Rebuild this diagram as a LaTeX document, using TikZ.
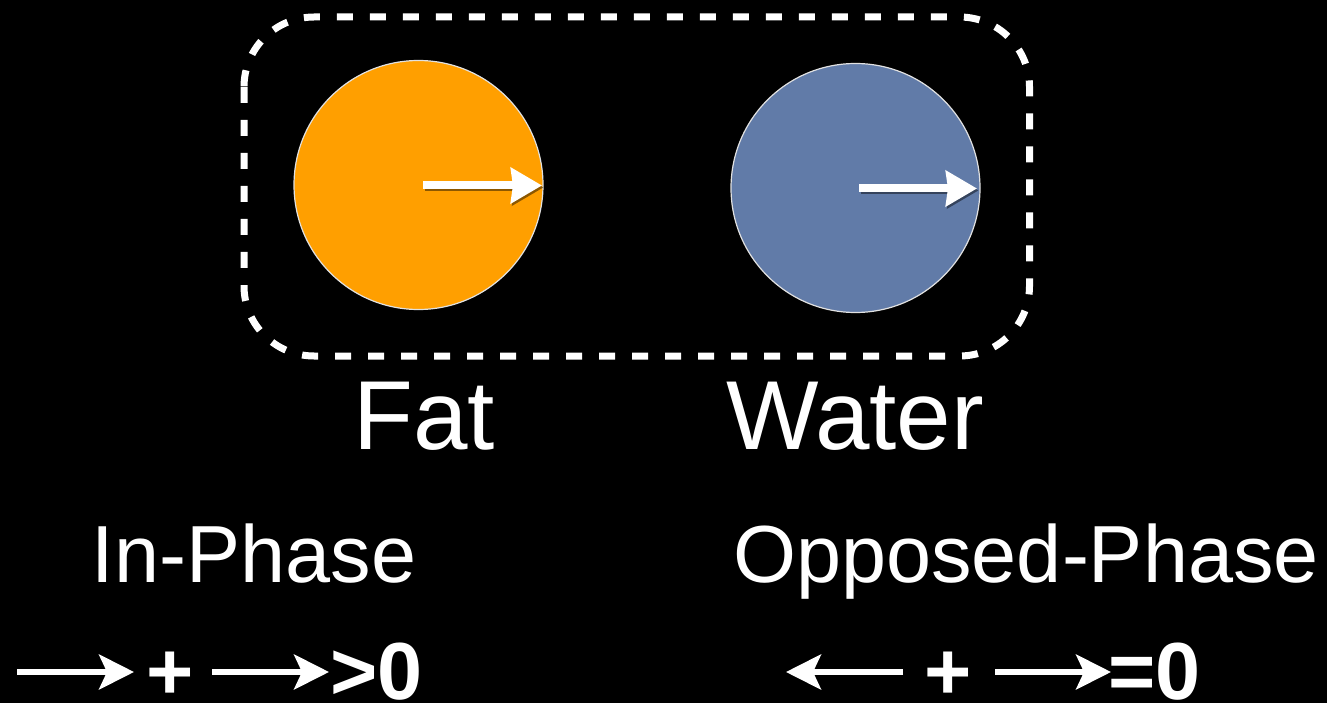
\documentclass[tikz,border=0pt]{standalone}
\usepackage{fontspec}
\setmainfont{Liberation Sans}
\usetikzlibrary{arrows.meta}
\definecolor{fatorange}{RGB}{255,159,0}
\definecolor{waterblue}{RGB}{97,123,168}
\definecolor{rimgrey}{RGB}{225,225,225}
\tikzset{
  blob/.style={circle, minimum size=249pt, inner sep=0pt, line width=1.2pt, draw=rimgrey},
  bigword/.style={text=white, inner sep=0pt, anchor=base, font=\fontsize{98}{100}\selectfont},
  phaseword/.style={text=white, inner sep=0pt, anchor=base, font=\fontsize{81}{84}\selectfont},
  boldword/.style={text=white, inner sep=0pt, text depth=0pt, anchor=base west, font=\fontsize{81}{84}\selectfont\bfseries},
  boldplus/.style={text=white, inner sep=0pt, text depth=0pt, anchor=base, font=\fontsize{81}{84}\selectfont\bfseries},
  vecarrow/.style={white, line width=8pt, -{Stealth[length=31pt,width=35pt,inset=2pt]}},
  vecshadow/.style={black, opacity=0.45, line width=8pt, -{Stealth[length=31pt,width=35pt,inset=2pt]}},
  sumarrow/.style={white, line width=5.5pt, -{Stealth[length=35pt,width=35pt,inset=8pt]}},
  groupbox/.style={draw=white, line width=7pt, rounded corners=70pt, dash pattern=on 16pt off 17pt},
}
\begin{document}
\begin{tikzpicture}[x=1pt,y=-1pt]
\fill[black] (0,0) rectangle (1327,703);
\useasboundingbox (0,0) rectangle (1327,703);

% dashed group box
\draw[groupbox] (244,17) rectangle (1029.5,356);

% circles
\node[blob, fill=fatorange] (fat) at (418.5,185) {};
\node[blob, fill=waterblue] (water) at (855.5,188) {};

% vectors inside circles
\coordinate (fatstart) at (423,185.5);
\coordinate (fattip) at (542,185.5);
\coordinate (waterstart) at (859,188.5);
\coordinate (watertip) at (977,188.5);
\draw[vecshadow] ([shift={(1.5,2)}]fatstart) -- ([shift={(1.5,2)}]fattip);
\draw[vecarrow] (fatstart) -- (fattip);
\draw[vecshadow] ([shift={(1.5,2)}]waterstart) -- ([shift={(1.5,2)}]watertip);
\draw[vecarrow] (waterstart) -- (watertip);

% labels
\node[bigword] (fatlabel) at (424,449) {Fat};
\node[bigword] (waterlabel) at (855,449) {Water};
\node[phaseword] (inphase) at (254,582) {In-Phase};
\node[phaseword] (opphase) at (1026,582) {Opposed-Phase};

% in-phase sum
\coordinate (ia1s) at (17,672);
\coordinate (ia1e) at (134,672);
\coordinate (ia2s) at (212,672);
\coordinate (ia2e) at (329,672);
\draw[sumarrow] (ia1s) -- (ia1e);
\node[boldplus] (iplus) at (170,699) {+};
\draw[sumarrow] (ia2s) -- (ia2e);
\node[boldword] (igt) at (330,699) {>0};

% opposed-phase sum
\coordinate (oa1s) at (903,672);
\coordinate (oa1e) at (786,672);
\coordinate (oa2s) at (995,672);
\coordinate (oa2e) at (1111,672);
\draw[sumarrow] (oa1s) -- (oa1e);
\node[boldplus] (oplus) at (948,699) {+};
\draw[sumarrow] (oa2s) -- (oa2e);
\node[boldword] (oeq) at (1108,699) {=0};
\end{tikzpicture}
\end{document}
